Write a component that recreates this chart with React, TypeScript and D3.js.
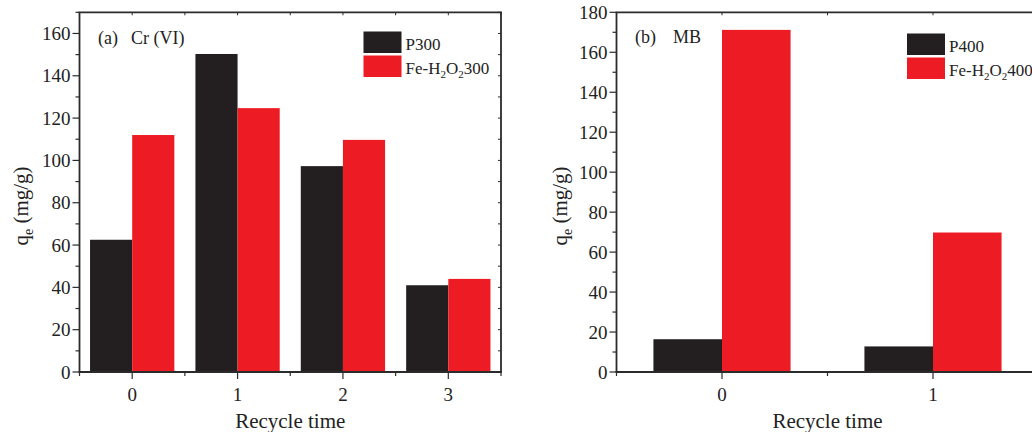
import React from "react";
import * as d3 from "d3";

const cyclesA = [0, 1, 2, 3];
const p300 = [62.5, 150.3, 97.3, 41];
const fe300 = [112, 124.7, 109.7, 44];
const yTicksA = [0, 20, 40, 60, 80, 100, 120, 140, 160];

const cyclesB = [0, 1];
const p400 = [16.4, 12.8];
const fe400 = [171.2, 69.8];
const yTicksB = [0, 20, 40, 60, 80, 100, 120, 140, 160, 180];

const BLACK = "#231F20";
const RED = "#ED1C24";
const AX = "#2b2b2b";
const FONT = '"Liberation Serif", "Times New Roman", Times, serif';

type PanelProps = {
  cats: number[];
  s1: number[];
  s2: number[];
  yMax: number;
  yTicks: number[];
  xRange: [number, number];
  barW: number;
  label: [string, string];
  labelX: [number, number];
  labelY: number;
  legendX: number;
  legendY: number;
  legendNames: [string, string];
  yTitleX: number;
  showRight: boolean;
};

function Panel(p: PanelProps) {
  const TS = { fontFamily: FONT };
  const x = d3.scaleLinear().domain([-0.5, p.cats.length - 0.5]).range(p.xRange);
  const y = d3.scaleLinear().domain([0, p.yMax]).range([372, 12.3]);
  const x0 = p.xRange[0];
  const x1 = p.xRange[1];
  const y0 = y(0);
  const yTop = y(p.yMax);
  const minorY = d3.range(0, p.yMax + 0.001, 10);
  const halfX = d3.range(-0.5, p.cats.length - 0.5 + 0.001, 0.5);
  const midX = (x0 + x1) / 2;
  return (
    <g>
      {p.cats.map((c, i) => (
        <g key={c}>
          <rect x={x(c - p.barW)} y={y(p.s1[i])} width={x(c) - x(c - p.barW)} height={y0 - y(p.s1[i])} fill={BLACK} />
          <rect x={x(c)} y={y(p.s2[i])} width={x(c + p.barW) - x(c)} height={y0 - y(p.s2[i])} fill={RED} />
        </g>
      ))}
      <line x1={x0} x2={x0} y1={yTop} y2={y0} stroke={AX} strokeWidth={1.8} />
      <line x1={x0 - 0.9} x2={x1 + 0.9} y1={y0} y2={y0} stroke={AX} strokeWidth={1.8} />
      <line x1={x0 - 0.9} x2={x1 + 0.9} y1={yTop} y2={yTop} stroke={AX} strokeWidth={1.8} />
      {p.showRight && <line x1={x1} x2={x1} y1={yTop} y2={y0} stroke={AX} strokeWidth={1.8} />}
      {minorY.map((v) => {
        const major = v % 20 === 0;
        return (
          <g key={"yt" + v}>
            <line x1={x0 - (major ? 7 : 4)} x2={x0} y1={y(v)} y2={y(v)} stroke={AX} strokeWidth={1.2} />
            {p.showRight && <line x1={x1 - 3} x2={x1} y1={y(v)} y2={y(v)} stroke={AX} strokeWidth={1} />}
          </g>
        );
      })}
      {p.yTicks.map((v) => (
        <text key={"yl" + v} x={x0 - 9} y={y(v)} dy="0.35em" textAnchor="end" fontSize={19} style={TS} fill="#222">
          {v}
        </text>
      ))}
      {halfX.map((v) => {
        const major = Math.abs(v - Math.round(v)) < 0.01;
        return (
          <g key={"xt" + v}>
            <line x1={x(v)} x2={x(v)} y1={y0} y2={y0 + (major ? 7 : 4)} stroke={AX} strokeWidth={1.2} />
            <line x1={x(v)} x2={x(v)} y1={yTop} y2={yTop + 3} stroke={AX} strokeWidth={1} />
          </g>
        );
      })}
      {p.cats.map((c) => (
        <text key={"xl" + c} x={x(c)} y={401} textAnchor="middle" fontSize={19} style={TS} fill="#222">
          {c}
        </text>
      ))}
      <text x={midX} y={428} textAnchor="middle" fontSize={21} style={TS} fill="#222">
        Recycle time
      </text>
      <text transform={`translate(${p.yTitleX},206) rotate(-90)`} textAnchor="middle" fontSize={21} style={TS} fill="#222">
        q<tspan fontSize={14} dy={5}>e</tspan>
        <tspan dy={-5}> (mg/g)</tspan>
      </text>
      <text x={p.labelX[0]} y={p.labelY} fontSize={18} style={TS} fill="#222">
        {p.label[0]}
      </text>
      <text x={p.labelX[1]} y={p.labelY} fontSize={18} style={TS} fill="#222">
        {p.label[1]}
      </text>
      <rect x={p.legendX} y={p.legendY} width={38} height={21.5} fill={BLACK} />
      <rect x={p.legendX} y={p.legendY + 24} width={38} height={21.5} fill={RED} />
      <text x={p.legendX + 42} y={p.legendY + 18} fontSize={17} style={TS} fill="#222">
        {p.legendNames[0]}
      </text>
      <text x={p.legendX + 42} y={p.legendY + 42} fontSize={17} style={TS} fill="#222">
        {p.legendNames[1]}
        <tspan fontSize={11} dy={4}>2</tspan>
        <tspan dy={-4}>O</tspan>
        <tspan fontSize={11} dy={4}>2</tspan>
        <tspan dy={-4}>{p.legendNames[0].slice(1)}</tspan>
      </text>
    </g>
  );
}

export default function App() {
  return (
    <svg width={1032} height={432} style={{ position: "absolute", left: 0, top: 0, background: "#fff" }}>
      <rect width={1032} height={432} fill="#fff" />
      <Panel
        cats={cyclesA}
        s1={p300}
        s2={fe300}
        yMax={170}
        yTicks={yTicksA}
        xRange={[79.5, 501]}
        barW={0.4}
        label={["(a)", "Cr (VI)"]}
        labelX={[98, 131]}
        labelY={44}
        legendX={363.5}
        legendY={31.5}
        legendNames={["P300", "Fe-H"]}
        yTitleX={28}
        showRight={true}
      />
      <Panel
        cats={cyclesB}
        s1={p400}
        s2={fe400}
        yMax={180}
        yTicks={yTicksB}
        xRange={[616.5, 1038.5]}
        barW={0.325}
        label={["(b)", "MB"]}
        labelX={[635, 673]}
        labelY={43}
        legendX={907}
        legendY={33.5}
        legendNames={["P400", "Fe-H"]}
        yTitleX={567}
        showRight={false}
      />
    </svg>
  );
}
